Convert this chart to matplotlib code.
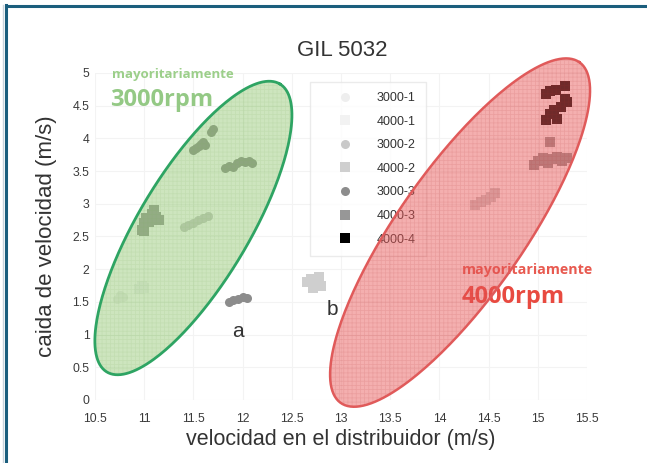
import numpy as np
import matplotlib
matplotlib.use("Agg")
import matplotlib.pyplot as plt
from matplotlib.lines import Line2D

plt.rcParams['font.family'] = ['Liberation Sans', 'DejaVu Sans']
plt.rcParams['hatch.linewidth'] = 0.6

# series: (label, marker, colour, x values, y values)
s3000_1_x = [10.72, 10.75, 10.78]
s3000_1_y = [1.55, 1.60, 1.58]
s4000_1_x = [10.95, 10.98, 11.00]
s4000_1_y = [1.70, 1.74, 1.72]
s3000_2_x = [11.40, 11.45, 11.50, 11.55, 11.60, 11.65]
s3000_2_y = [2.65, 2.68, 2.70, 2.75, 2.78, 2.82]
s4000_2_x = [12.65, 12.70, 12.75, 12.80, 12.78, 12.72,
             14.36, 14.42, 14.47, 14.52, 14.57]
s4000_2_y = [1.80, 1.85, 1.78, 1.75, 1.88, 1.72,
             2.98, 3.02, 3.06, 3.10, 3.17]
s3000_3_x = [11.50, 11.53, 11.56, 11.58, 11.60, 11.62, 11.68, 11.70,
             11.82, 11.86, 11.90, 11.94, 11.98, 12.02, 12.06, 12.10,
             11.86, 11.90, 11.95, 12.00, 12.04]
s3000_3_y = [3.82, 3.85, 3.88, 3.92, 3.95, 3.90, 4.10, 4.15,
             3.55, 3.58, 3.56, 3.62, 3.66, 3.64, 3.66, 3.62,
             1.50, 1.53, 1.55, 1.57, 1.56]
s4000_3_x = [10.98, 11.00, 11.02, 11.05, 11.08, 11.10, 11.12, 11.15, 11.00,
             14.96, 15.00, 15.05, 15.10, 15.15, 15.20, 15.25, 15.30, 15.12]
s4000_3_y = [2.60, 2.70, 2.78, 2.72, 2.85, 2.90, 2.80, 2.75, 2.58,
             3.60, 3.66, 3.70, 3.62, 3.68, 3.72, 3.65, 3.70, 3.95]
s4000_4_x = [15.08, 15.12, 15.18, 15.28, 15.30,
             15.08, 15.12, 15.16, 15.20, 15.24, 15.28]
s4000_4_y = [4.68, 4.72, 4.74, 4.80, 4.55,
             4.28, 4.38, 4.44, 4.30, 4.48, 4.60]

series = [
    ("3000-1", "o", "#eeeeee", s3000_1_x, s3000_1_y),
    ("4000-1", "s", "#f2f2f2", s4000_1_x, s4000_1_y),
    ("3000-2", "o", "#c9c9c9", s3000_2_x, s3000_2_y),
    ("4000-2", "s", "#cfcfcf", s4000_2_x, s4000_2_y),
    ("3000-3", "o", "#8c8c8c", s3000_3_x, s3000_3_y),
    ("4000-3", "s", "#979797", s4000_3_x, s4000_3_y),
    ("4000-4", "s", "#000000", s4000_4_x, s4000_4_y),
]

# ellipses: centre (data), semi axes and angle measured in pixels
green_ell = (11.50, 2.63, 168, 55, 59)
red_ell = (14.21, 2.56, 208, 63, 55)

W, H = 647, 463
fig = plt.figure(figsize=(W / 100, H / 100), dpi=100)
pos = [95 / W, 63 / H, 492 / W, 327 / H]
ax = fig.add_axes(pos)
xmin, xmax, ymin, ymax = 10.5, 15.5, 0, 5
ax.set_xlim(xmin, xmax)
ax.set_ylim(ymin, ymax)
px_x = pos[2] * W / (xmax - xmin)
px_y = pos[3] * H / (ymax - ymin)

for lab, mk, col, xs, ys in series:
    ax.plot(xs, ys, linestyle='none', marker=mk, markersize=6.5,
            color=col, markeredgewidth=0, label=lab, zorder=2)


def ellipse_xy(cx, cy, a, b, ang):
    t = np.linspace(0, 2 * np.pi, 300)
    th = np.radians(ang)
    dx = a * np.cos(t) * np.cos(th) - b * np.sin(t) * np.sin(th)
    dy = a * np.cos(t) * np.sin(th) + b * np.sin(t) * np.cos(th)
    return cx + dx / px_x, cy + dy / px_y


leg = ax.legend(loc='upper left', bbox_to_anchor=((310 - 95) / 492, (400 - 82) / 327),
                frameon=True, fontsize=9, labelspacing=0.93, handlelength=4,
                handletextpad=0.55, borderpad=0.8, fancybox=False,
                edgecolor='#e6e6e6', borderaxespad=0)
leg.set_zorder(3)
for t in leg.get_texts():
    t.set_color('#333333')

ex, ey = ellipse_xy(*green_ell)
ax.fill(ex, ey, facecolor='#90c76f', alpha=0.45, lw=0, zorder=4, clip_on=False)
ax.fill(ex, ey, facecolor='none', edgecolor='#7fb060', hatch='++++', alpha=0.12, lw=0,
        zorder=4, clip_on=False)
ax.plot(ex, ey, color='#2ea463', lw=2, zorder=5, clip_on=False)

ex, ey = ellipse_xy(*red_ell)
ax.fill(ex, ey, facecolor='#e95858', alpha=0.48, lw=0, zorder=4, clip_on=False)
ax.fill(ex, ey, facecolor='none', edgecolor='#b03030', hatch='++++', alpha=0.12, lw=0,
        zorder=4, clip_on=False)
ax.plot(ex, ey, color='#e05a5a', lw=1.8, zorder=5, clip_on=False)

ax.text(10.67, 4.97, "mayoritariamente", color='#9ccf8a', fontsize=9.5,
        fontweight='bold', family='Open Sans', va='center', zorder=3)
ax.text(10.65, 4.59, "3000rpm", color='#94c985', fontsize=17,
        fontweight='bold', family='Open Sans', va='center', zorder=3)
ax.text(14.23, 1.99, "mayoritariamente", color='#e85a50', fontsize=10.3,
        fontweight='bold', family='Open Sans', va='center', zorder=3, clip_on=False)
ax.text(14.23, 1.57, "4000rpm", color='#e84a40', fontsize=17,
        fontweight='bold', family='Open Sans', va='center', zorder=3)
ax.text(11.95, 1.04, "a", color='#333333', fontsize=15, ha='center', va='center', zorder=6)
ax.text(12.91, 1.38, "b", color='#333333', fontsize=15, ha='center', va='center', zorder=6)

ax.set_xticks(np.arange(10.5, 15.51, 0.5))
ax.set_xticklabels(["10.5", "11", "11.5", "12", "12.5", "13", "13.5", "14",
                    "14.5", "15", "15.5"])
ax.set_yticks(np.arange(0, 5.01, 0.5))
ax.set_yticklabels(["0", "0.5", "1", "1.5", "2", "2.5", "3", "3.5", "4", "4.5", "5"])
ax.tick_params(length=0, labelsize=8.8, labelcolor='#3a3a3a')
ax.tick_params(axis='x', pad=9)
ax.tick_params(axis='y', pad=4)
for s in ax.spines.values():
    s.set_visible(False)
ax.grid(True, color='#f3f3f3', lw=0.8, zorder=0)
ax.set_axisbelow(True)

ax.set_xlabel("velocidad en el distribuidor (m/s)", fontsize=15.5, color='#333333', labelpad=3)
ax.set_ylabel("caida de velocidad (m/s)", fontsize=16, color='#333333', labelpad=11)
fig.text(342 / W, 1 - 50 / H, "GIL 5032", fontsize=16, color='#333333', ha='center', va='center')

# frame lines of the panel
fig.add_artist(Line2D([5.5 / W, 1], [1 - 6 / H, 1 - 6 / H], color='#1b5e7d', lw=2.2))
fig.add_artist(Line2D([6 / W, 6 / W], [0, 1 - 5 / H], color='#1b5e7d', lw=2.2))
fig.add_artist(Line2D([3 / W, 3 / W], [0, 1 - 5 / H], color='#c8d4dc', lw=1))

fig.savefig("out.png", dpi=100)
